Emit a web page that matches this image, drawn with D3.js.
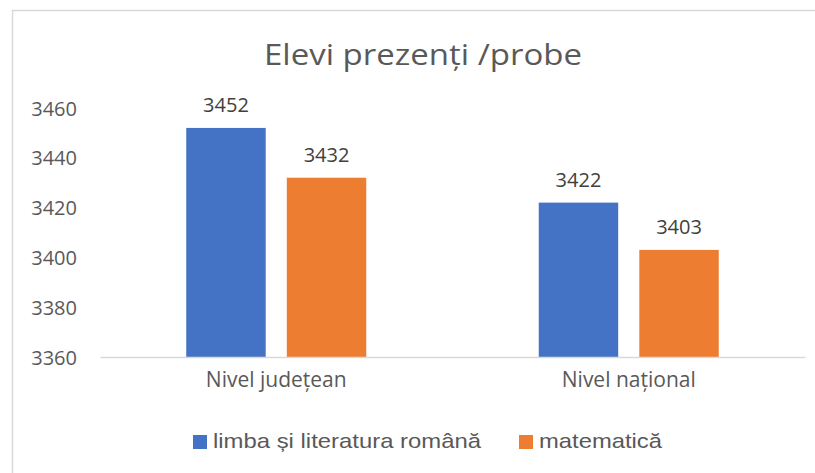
<!DOCTYPE html>
<html><head><meta charset="utf-8">
<script src="https://cdn.jsdelivr.net/npm/d3@7"></script>
<style>body{margin:0;background:#fff}svg{display:block}</style>
</head><body>
<svg id="c" width="815" height="473"></svg>
<script>
const categories = ["Nivel județean", "Nivel național"];
const seriesNames = ["limba și literatura română", "matematică"];
const romana = [3452, 3422];
const matematica = [3432, 3403];
const yTicks = [3360, 3380, 3400, 3420, 3440, 3460];
const colors = ["#4472C4", "#ED7D31"];
const title = "Elevi prezenți /probe";

(function () {
const svg = d3.select("#c");
const textColor = "#595959";
const font = "'Open Sans', sans-serif";

// chart border
svg.append("rect").attr("x", 12.5).attr("y", 10.5).attr("width", 820).attr("height", 480)
  .attr("fill", "#fff").attr("stroke", "#d9d9d9").attr("stroke-width", 1.5);

const mLeft = 100, mRight = 805, mTop = 108, mBottom = 357;
const x0 = d3.scaleBand().domain(categories).range([mLeft, mRight]).paddingInner(0).paddingOuter(0);
const x1 = d3.scaleBand().domain(seriesNames).range([0, 180]).paddingInner(0.21).paddingOuter(0);
const y = d3.scaleLinear().domain([3360, 3460]).range([mBottom, mTop]);

svg.append("text").attr("x", 423).attr("y", 65).attr("text-anchor", "middle")
  .attr("font-family", font).attr("font-size", 29).attr("fill", textColor)
  .attr("textLength", 318).attr("lengthAdjust", "spacingAndGlyphs").text(title);

// y axis labels
const yAxis = d3.axisLeft(y).tickValues(yTicks).tickSize(0).tickPadding(0).tickFormat(d3.format("d"));
const gy = svg.append("g").attr("transform", `translate(77,0)`).call(yAxis);
gy.select(".domain").remove();
gy.selectAll("text").attr("font-family", font).attr("font-size", 20).attr("fill", textColor).attr("dy", "0.35em");

const data = categories.map((c, i) => ({cat: c, vals: [romana[i], matematica[i]]}));
const groups = svg.append("g").selectAll("g").data(data).join("g")
  .attr("transform", d => `translate(${x0(d.cat) + x0.bandwidth()/2 - 90},0)`);
groups.selectAll("rect").data(d => d.vals.map((v, j) => ({v, s: seriesNames[j], j}))).join("rect")
  .attr("x", d => x1(d.s)).attr("width", x1.bandwidth())
  .attr("y", d => y(d.v)).attr("height", d => y(3360) - y(d.v))
  .attr("fill", d => colors[d.j]);
groups.selectAll("text").data(d => d.vals.map((v, j) => ({v, s: seriesNames[j]}))).join("text")
  .attr("x", d => x1(d.s) + x1.bandwidth()/2).attr("y", d => y(d.v) - 16)
  .attr("text-anchor", "middle").attr("font-family", font).attr("font-size", 20).attr("fill", "#404040")
  .text(d => d.v);

// x axis
const xAxis = d3.axisBottom(x0).tickSize(0).tickPadding(0);
const gx = svg.append("g").attr("transform", `translate(0,${mBottom})`).call(xAxis);
gx.select(".domain").attr("stroke", "#d9d9d9").attr("stroke-width", 1.5);
gx.selectAll("text").attr("font-family", font).attr("font-size", 21).attr("fill", textColor)
  .attr("dy", 0).attr("y", 30);

// legend
const legendItems = [{x: 193, name: seriesNames[0], c: colors[0], w: 268}, {x: 519, name: seriesNames[1], c: colors[1], w: 123}];
const lg = svg.append("g").selectAll("g").data(legendItems).join("g")
  .attr("transform", d => `translate(${d.x},0)`);
lg.append("rect").attr("x", 0).attr("y", 435).attr("width", 14).attr("height", 14).attr("fill", d => d.c);
lg.append("text").attr("x", 20).attr("y", 448).attr("font-family", "'Liberation Sans', Arial, sans-serif")
  .attr("font-size", 21).attr("fill", textColor)
  .attr("textLength", d => d.w).attr("lengthAdjust", "spacingAndGlyphs").text(d => d.name);
})();
</script>
</body></html>
